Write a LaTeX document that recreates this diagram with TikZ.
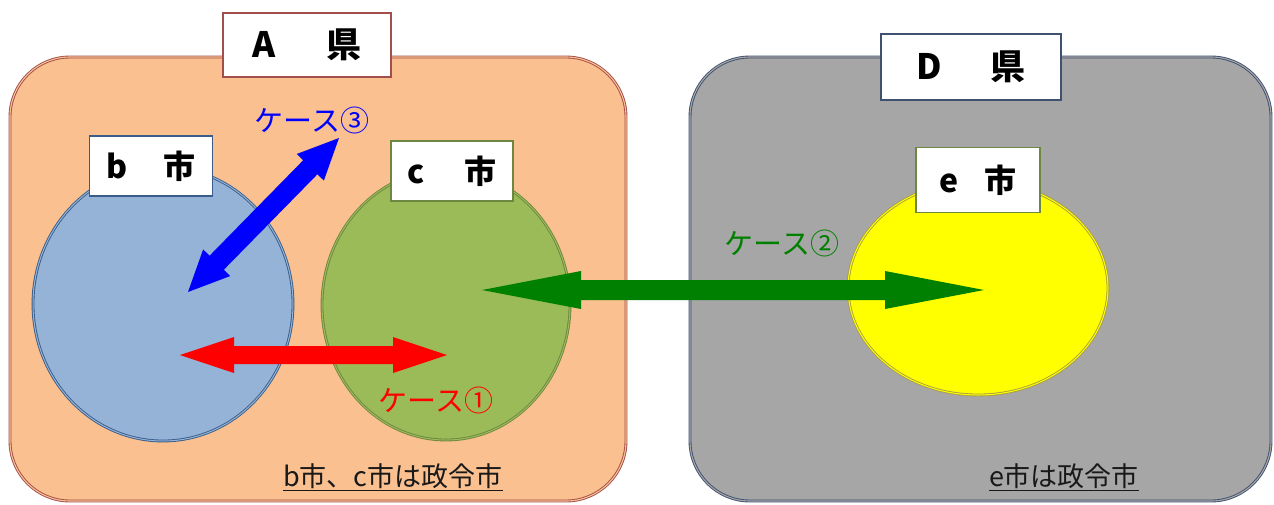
\documentclass[tikz,border=0pt]{standalone}
\usepackage{fontspec}
\setmainfont{Noto Sans CJK JP}
\usetikzlibrary{calc}
\definecolor{aFill}{HTML}{FAC090}
\definecolor{aLine}{HTML}{A24E4C}
\definecolor{dFill}{HTML}{A6A6A6}
\definecolor{dLine}{HTML}{3F5070}
\definecolor{bFill}{HTML}{95B3D7}
\definecolor{bLine}{HTML}{385D8A}
\definecolor{cFill}{HTML}{9BBB59}
\definecolor{cLine}{HTML}{6E8740}
\definecolor{eFill}{HTML}{FFFF00}
\definecolor{eLine}{HTML}{A89E48}
\definecolor{gArrow}{HTML}{008000}
\definecolor{rArrow}{HTML}{FF0000}
\definecolor{bArrow}{HTML}{0000FF}
\tikzset{
  region/.style={rounded corners=60pt, line width=0.9pt, double distance=1.1pt},
  city/.style={line width=0.9pt, double distance=1pt},
  tag/.style={fill=white, line width=1.8pt, inner sep=0pt, font=\fontsize{32}{32}\selectfont\bfseries, text=black},
  casetext/.style={inner sep=0pt, font=\fontsize{29}{29}\selectfont},
  notetext/.style={inner sep=0pt, font=\fontsize{27}{27}\selectfont, text=black!90},
}
\newcommand\blockarrow[6]{% from, to, colour, shaft half, head half, head length
  \coordinate (#1h) at ($(#1)!#6!(#2)$);
  \coordinate (#2h) at ($(#2)!#6!(#1)$);
  \fill[#3] (#1) -- ($(#1h)!#5!90:(#2)$) -- ($(#1h)!#4!90:(#2)$)
    -- ($(#2h)!#4!-90:(#1)$) -- ($(#2h)!#5!-90:(#1)$) -- (#2)
    -- ($(#2h)!#5!90:(#1)$) -- ($(#2h)!#4!90:(#1)$)
    -- ($(#1h)!#4!-90:(#2)$) -- ($(#1h)!#5!-90:(#2)$) -- cycle;
}
\begin{document}
\begin{tikzpicture}[x=1pt,y=-1pt]
\useasboundingbox (0,0) rectangle (1274,504);
\clip (0,0) rectangle (1274,504);
% prefectures
\draw[region, draw=aLine, double=aFill, fill=aFill] (10,57) rectangle (626,501);
\draw[region, draw=dLine, double=dFill, fill=dFill] (690,57) rectangle (1271,501);
% cities
\draw[city, draw=bLine, double=bFill, fill=bFill] (163,304) ellipse [x radius=130, y radius=137];
\draw[city, draw=cLine, double=cFill, fill=cFill] (446,305) ellipse [x radius=124, y radius=135];
\draw[city, draw=eLine, double=eFill, fill=eFill] (978,288) ellipse [x radius=130, y radius=107];
% tags
\node[tag, draw=aLine, minimum width=168, minimum height=64] (Atag) at (307,45) {\fontsize{35}{35}\selectfont A\hspace{50pt}県};
\node[tag, draw=dLine, minimum width=180, minimum height=66] (Dtag) at (971,67) {\fontsize{35}{35}\selectfont D\hspace{49pt}県};
\node[tag, draw=bLine, minimum width=123, minimum height=60] (btag) at (151,166) {b\hspace{36pt}市};
\node[tag, draw=cLine, minimum width=122, minimum height=60] (ctag) at (452,171) {c\hspace{39pt}市};
\node[tag, draw=cLine, minimum width=124, minimum height=65] (etag) at (978,180) {e\hspace{26pt}市};
% arrows
\coordinate (gL) at (482,290);
\coordinate (gR) at (984,290);
\blockarrow{gL}{gR}{gArrow}{10pt}{19pt}{99pt}
\coordinate (rL) at (180,355);
\coordinate (rR) at (447,355);
\blockarrow{rL}{rR}{rArrow}{9pt}{18pt}{54pt}
\coordinate (uL) at (188,292);
\coordinate (uR) at (339,138);
\blockarrow{uL}{uR}{bArrow}{10pt}{19pt}{41pt}
% case labels
\node[casetext, text=bArrow] (case3) at (312,120) {ケース③};
\node[casetext, text=rArrow] (case1) at (436,400) {ケース①};
\node[casetext, text=gArrow] (case2) at (782,243) {ケース②};
% notes
\node[notetext] (noteA) at (393,477) {\underline{b市、c市は政令市}};
\node[notetext] (noteD) at (1064,477) {\underline{e市は政令市}};
\end{tikzpicture}
\end{document}
